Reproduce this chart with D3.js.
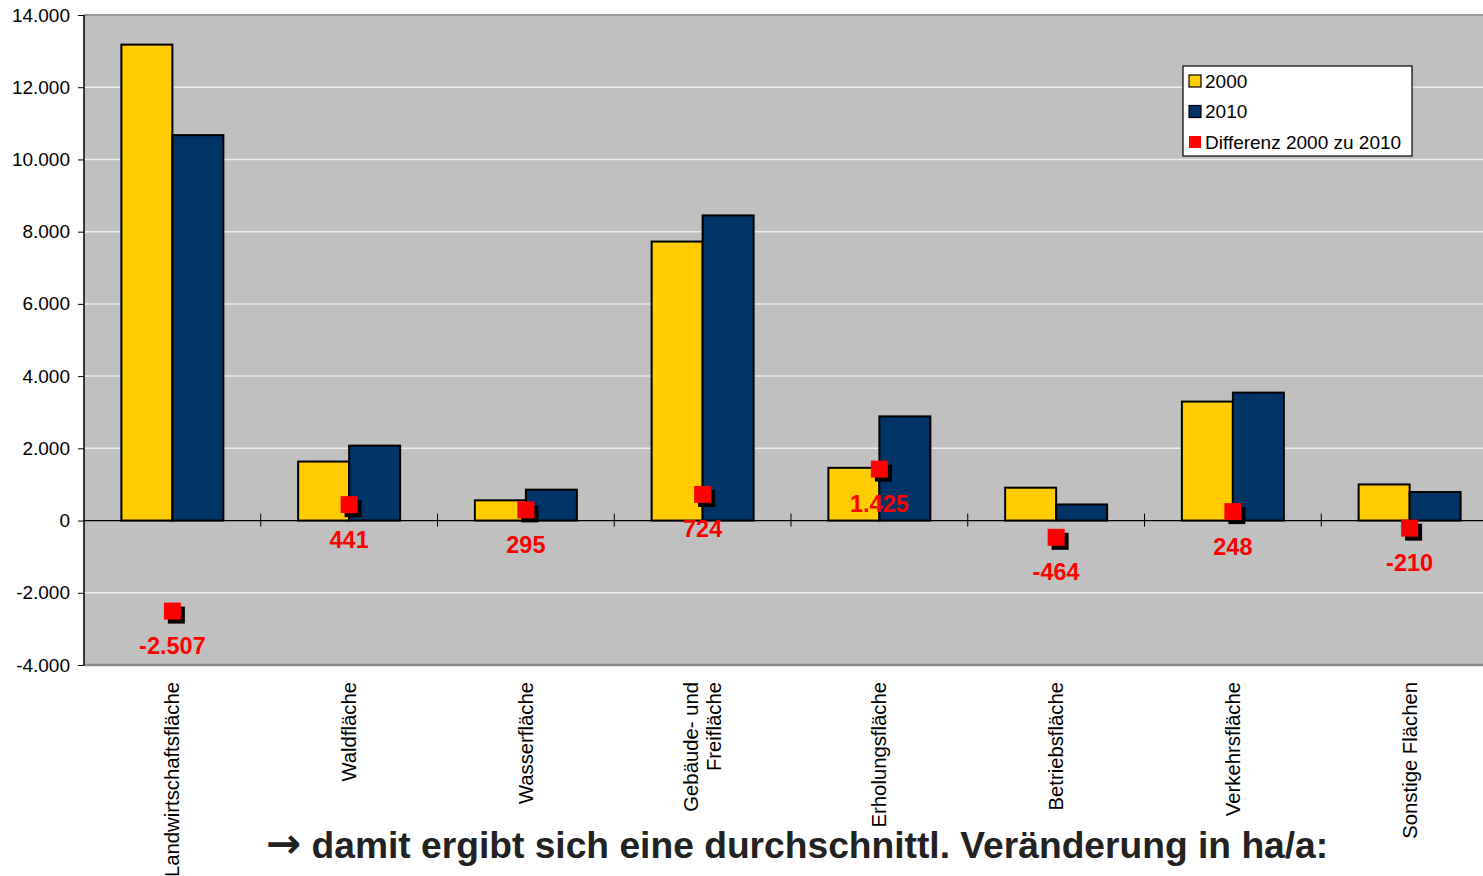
<html>
<head>
<meta charset="utf-8">
<style>
  body { margin: 0; background: #fff; }
  svg { display: block; font-family: "Liberation Sans", Arial, sans-serif; }
  .grid line { stroke: #ececec; stroke-width: 1.5; }
  .axis--y path { display: none; }
  .axis--y text { font-size: 19px; fill: #000; font-family: "Liberation Sans", Arial, sans-serif; }
  .bar { stroke: #000; stroke-width: 2; }
  .diff-label { font-size: 23.5px; font-weight: bold; fill: #ff0000; text-anchor: middle; }
  .cat { font-size: 20.3px; fill: #000; }
  .note { font-size: 37.2px; font-weight: bold; fill: #222; }
  .note .arrow { font-family: "DejaVu Sans", sans-serif; font-size: 42px; }
</style>
<script src="https://cdnjs.cloudflare.com/ajax/libs/d3/7.8.5/d3.min.js"></script>
</head>
<body>
<svg width="1483" height="876"></svg>
<script>
// data, hectares
var categories = ['Landwirtschaftsfläche', 'Waldfläche', 'Wasserfläche', 'Gebäude- und|Freifläche',
                  'Erholungsfläche', 'Betriebsfläche', 'Verkehrsfläche', 'Sonstige Flächen'];
var series = ['2000', '2010'];
var values2000 = [13180, 1634, 560, 7726, 1460, 910, 3295, 1000];
var values2010 = [10673, 2075, 855, 8450, 2885, 446, 3543, 790];
var differenz  = [-2507, 441, 295, 724, 1425, -464, 248, -210];
var yTicks = [-4000, -2000, 0, 2000, 4000, 6000, 8000, 10000, 12000, 14000];
var legendLabels = ['2000', '2010', 'Differenz 2000 zu 2010'];
var noteArrow = '\u2192';
var noteText = ' damit ergibt sich eine durchschnittl. Veränderung in ha/a:';

var colors = { '2000': '#ffcc00', '2010': '#003366', diff: '#ff0000' };

var svg = d3.select('svg');
var W = +svg.attr('width');
var plot = { left: 84, top: 15, right: 1498, bottom: 665 };

var de = d3.formatLocale({ decimal: ',', thousands: '.', grouping: [3], currency: ['', ' €'], minus: '-' });
var fmt = de.format(',.0f');

var x = d3.scaleBand().domain(categories).range([plot.left, plot.right]).padding(0);
var x1 = d3.scaleBand().domain(series).range([0, x.bandwidth()]).paddingInner(0).paddingOuter(0.733);
var y = d3.scaleLinear().domain([-4000, 14000]).range([plot.bottom, plot.top]);

// plot background
svg.append('rect')
  .attr('x', plot.left).attr('y', plot.top)
  .attr('width', W - plot.left).attr('height', plot.bottom - plot.top)
  .attr('fill', '#c0c0c0');
svg.append('line').attr('x1', plot.left).attr('x2', W).attr('y1', plot.top).attr('y2', plot.top)
  .attr('stroke', '#999').attr('stroke-width', 2);
svg.append('line').attr('x1', plot.left).attr('x2', W).attr('y1', plot.bottom).attr('y2', plot.bottom)
  .attr('stroke', '#8a8a8a').attr('stroke-width', 2.5);

// gridlines
svg.append('g').attr('class', 'grid')
  .selectAll('line').data(yTicks.filter(function(d) { return d !== 0 && d !== -4000 && d !== 14000; }))
  .enter().append('line')
    .attr('x1', plot.left).attr('x2', W)
    .attr('y1', function(d) { return y(d); }).attr('y2', function(d) { return y(d); });

// y axis
svg.append('g')
  .attr('class', 'axis axis--y')
  .attr('transform', 'translate(' + plot.left + ',0)')
  .call(d3.axisLeft(y).tickValues(yTicks).tickSize(6).tickPadding(8).tickFormat(fmt))
  .call(function(g) { g.selectAll('line').attr('stroke', '#000'); });
svg.append('line').attr('x1', plot.left).attr('x2', plot.left).attr('y1', plot.top).attr('y2', plot.bottom)
  .attr('stroke', '#000').attr('stroke-width', 1.5);

// bars
var rows = categories.map(function(c, i) { return { cat: c, '2000': values2000[i], '2010': values2010[i], diff: differenz[i] }; });
var groups = svg.append('g').selectAll('g').data(rows).enter().append('g')
  .attr('transform', function(d) { return 'translate(' + x(d.cat) + ',0)'; });
groups.selectAll('rect').data(function(d) { return series.map(function(s) { return { s: s, v: d[s] }; }); })
  .enter().append('rect')
    .attr('class', 'bar')
    .attr('x', function(d) { return x1(d.s); })
    .attr('width', x1.bandwidth())
    .attr('y', function(d) { return y(d.v); })
    .attr('height', function(d) { return y(0) - y(d.v); })
    .attr('fill', function(d) { return colors[d.s]; });

// x axis at zero
var y0 = y(0);
svg.append('line').attr('x1', plot.left).attr('x2', W).attr('y1', y0).attr('y2', y0)
  .attr('stroke', '#000').attr('stroke-width', 1.2);
svg.append('g').selectAll('line').data(categories.slice(1)).enter().append('line')
  .attr('x1', function(d) { return x(d); }).attr('x2', function(d) { return x(d); })
  .attr('y1', y0 - 7).attr('y2', y0 + 6)
  .attr('stroke', '#000').attr('stroke-width', 1);

// difference markers
var ms = 17;
var marks = svg.append('g').selectAll('g').data(rows).enter().append('g')
  .attr('transform', function(d) { return 'translate(' + (x(d.cat) + x.bandwidth() / 2) + ',' + y(d.diff) + ')'; });
marks.append('rect')
  .attr('x', -ms / 2 + 4).attr('y', -ms / 2 + 4).attr('width', ms).attr('height', ms).attr('fill', '#000');
marks.append('rect')
  .attr('x', -ms / 2).attr('y', -ms / 2).attr('width', ms).attr('height', ms).attr('fill', colors.diff);
marks.append('text').attr('class', 'diff-label')
  .attr('y', 43)
  .text(function(d) { return fmt(d.diff); });

// category labels
var cats = svg.append('g').selectAll('text').data(categories).enter().append('text')
  .attr('class', 'cat')
  .attr('text-anchor', 'end')
  .attr('transform', function(d) { return 'translate(' + (x(d) + x.bandwidth() / 2) + ',682) rotate(-90)'; });
cats.each(function(d) {
  var parts = d.split('|');
  var t = d3.select(this);
  parts.forEach(function(p, i) {
    t.append('tspan')
      .attr('x', 0)
      .attr('dy', i === 0 ? (parts.length === 1 ? '0.35em' : '-0.25em') : '1.15em')
      .text(p);
  });
});

// legend
var lg = svg.append('g').attr('transform', 'translate(1183,66)');
lg.append('rect').attr('width', 229).attr('height', 90).attr('fill', '#fff').attr('stroke', '#000').attr('stroke-width', 1.2);
legendLabels.forEach(function(l, i) {
  var yy = 15 + i * 30.5;
  var key = i < 2 ? series[i] : 'diff';
  lg.append('rect').attr('x', 6).attr('y', yy - 6).attr('width', 12).attr('height', 12)
    .attr('fill', colors[key]).attr('stroke', i < 2 ? '#000' : 'none').attr('stroke-width', 1.2);
  lg.append('text').attr('x', 22).attr('y', yy).attr('dy', '0.35em')
    .style('font-size', '19px').text(l);
});

// note below the chart
var nt = svg.append('text').attr('class', 'note')
  .attr('x', 266).attr('y', 858);
nt.append('tspan').attr('class', 'arrow').text(noteArrow);
nt.append('tspan').text(noteText);
</script>
</body>
</html>
